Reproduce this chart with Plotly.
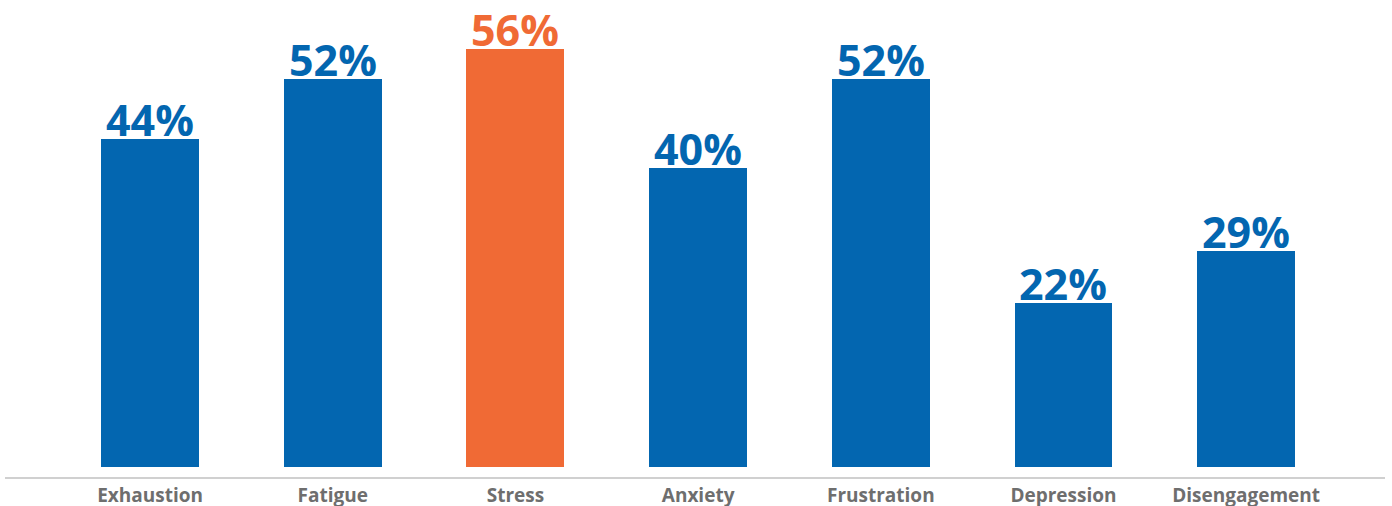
import plotly.graph_objects as go

categories = ["Exhaustion", "Fatigue", "Stress", "Anxiety", "Frustration", "Depression", "Disengagement"]
values = [44, 52, 56, 40, 52, 22, 29]
highlight = "Stress"

BLUE = "#0366B0"
ORANGE = "#F06A35"
colors = [ORANGE if c == highlight else BLUE for c in categories]

fig = go.Figure()
fig.add_trace(go.Bar(
    x=categories,
    y=values,
    width=0.536,
    marker=dict(color=colors, line=dict(width=0)),
    hoverinfo="skip",
))

# value labels sitting on top of each bar
for c, v, col in zip(categories, values, colors):
    fig.add_annotation(
        x=c, y=v, text=f"{v}%", showarrow=False,
        xanchor="center", yanchor="bottom", yshift=-12,
        font=dict(family="Open Sans", size=43, color=col, weight="bold"),
    )

fig.update_layout(
    width=1392, height=506,
    margin=dict(l=5, r=7, t=10, b=29),
    paper_bgcolor="white", plot_bgcolor="white",
    showlegend=False,
    bargap=0,
)
fig.update_xaxes(
    type="category",
    range=[-0.794, 6.76],
    automargin=False,
    showline=True, linecolor="#D0D0D0", linewidth=2,
    showgrid=False, ticks="", ticklabelstandoff=0,
    tickfont=dict(family="Open Sans", size=19, color="#6E6E6E", weight="bold"),
)
fig.update_yaxes(
    range=[-1.3, 61.2],
    visible=False, showgrid=False, zeroline=False, automargin=False,
)

fig.write_html("out.html")
